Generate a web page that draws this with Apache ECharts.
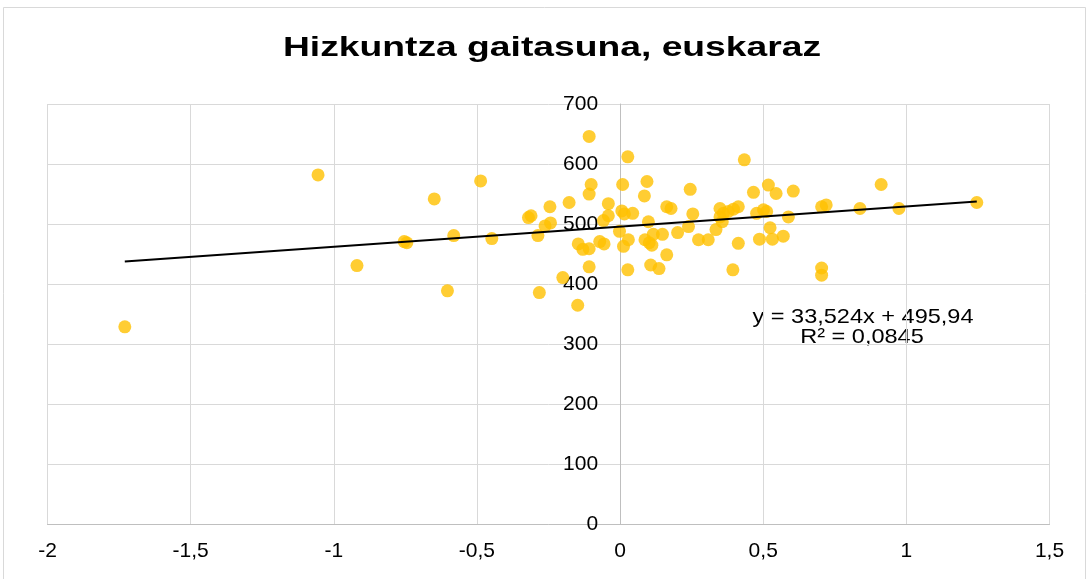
<!DOCTYPE html>
<html>
<head>
<meta charset="utf-8">
<script src="https://cdn.jsdelivr.net/npm/echarts@6/dist/echarts.min.js"></script>
<style>
html, body { margin: 0; padding: 0; background: #fff; }
#chart { width: 1089px; height: 579px; }
</style>
</head>
<body>
<div id="chart"></div>
<script>
// irakurritako puntuak (x, y)
const xValues = [
    -1.730, -1.055, -0.919, -0.754, -0.745, -0.649, -0.603, -0.581, -0.487, -0.448,
    -0.320, -0.311, -0.287, -0.282, -0.262, -0.243, -0.245, -0.200, -0.178, -0.148,
    -0.146, -0.130, -0.108, -0.108, -0.108, -0.101, -0.108, -0.071, -0.056, -0.041,
    -0.041, -0.058, 0.009, 0.027, 0.006, 0.015, 0.044, -0.002, 0.029, 0.012,
    0.027, 0.085, 0.094, 0.099, 0.087, 0.102, 0.111, 0.116, 0.148, 0.163,
    0.107, 0.136, 0.163, 0.178, 0.201, 0.239, 0.245, 0.254, 0.274, 0.308,
    0.335, 0.349, 0.361, 0.349, 0.357, 0.378, 0.396, 0.413, 0.413, 0.394,
    0.434, 0.466, 0.477, 0.501, 0.512, 0.487, 0.518, 0.524, 0.532, 0.545,
    0.570, 0.588, 0.605, 0.704, 0.720, 0.704, 0.704, 0.838, 0.912, 0.974,
    1.246
];
const yValues = [
    329, 582, 431, 471, 469, 542, 389, 481, 572, 476,
    511, 514, 481, 386, 497, 502, 529, 411, 536, 365,
    467, 458, 459, 429, 646, 566, 550, 471, 467, 534,
    514, 506, 566, 612, 522, 517, 518, 488, 474, 463,
    424, 547, 571, 504, 474, 469, 465, 483, 483, 449,
    432, 426, 529, 526, 486, 496, 558, 517, 474, 474,
    491, 526, 518, 512, 504, 521, 525, 529, 468, 424,
    607, 553, 518, 524, 521, 475, 565, 494, 475, 551,
    480, 512, 555, 529, 532, 427, 415, 526, 566, 526,
    536
];
// Excel-eko joera-lerroa
const slope = 33.524;
const intercept = 495.94;
const equationText = 'y = 33,524x + 495,94';
const r2Text = 'R² = 0,0845';
const titleText = 'Hizkuntza gaitasuna, euskaraz';

const points = xValues.map((x, i) => [x, yValues[i]]);
const xMin = Math.min(...xValues);
const xMax = Math.max(...xValues);
const trend = [[xMin, slope * xMin + intercept], [xMax, slope * xMax + intercept]];

const font = "'Liberation Sans', Arial, sans-serif";
const comma = v => String(v).replace('.', ',');

const gridLeft = 47.5;
const gridRight = 39.5;
const plotWidth = 1089 - gridLeft - gridRight;
const xAxisMin = -2;
const xAxisMax = 1.5;
// y ardatza x = 0 puntuan
const yAxisShift = plotWidth * (0 - xAxisMin) / (xAxisMax - xAxisMin);

const chart = echarts.init(document.getElementById('chart'));
const option = {
    animation: false,
    backgroundColor: '#fff',
    grid: {
        left: gridLeft,
        right: gridRight,
        top: 104,
        bottom: 54.5,
        outerBoundsMode: 'none',
        containLabel: false
    },
    xAxis: {
        type: 'value',
        min: xAxisMin,
        max: xAxisMax,
        interval: 0.5,
        axisLine: { show: true, onZero: false, lineStyle: { color: '#bfbfbf', width: 1 } },
        axisTick: { show: false },
        axisLabel: {
            color: '#000',
            fontSize: 21,
            fontFamily: font,
            margin: 16,
            formatter: comma
        },
        splitLine: { show: true, lineStyle: { color: '#d9d9d9', width: 1 } }
    },
    yAxis: {
        type: 'value',
        min: 0,
        max: 700,
        interval: 100,
        position: 'left',
        offset: -yAxisShift,
        axisLine: { show: true, onZero: false, lineStyle: { color: '#bfbfbf', width: 1 } },
        axisTick: { show: false },
        axisLabel: {
            color: '#000',
            fontSize: 21,
            fontFamily: font,
            margin: 22
        },
        splitLine: { show: true, lineStyle: { color: '#d9d9d9', width: 1 } }
    },
    series: [
        {
            type: 'scatter',
            data: points,
            symbol: 'circle',
            symbolSize: 13,
            itemStyle: { color: '#ffc000' },
            z: 2
        },
        {
            type: 'line',
            data: trend,
            symbol: 'none',
            lineStyle: { color: '#000', width: 2 },
            z: 3
        }
    ],
    graphic: [
        {
            type: 'rect',
            shape: { x: 3.5, y: 7.5, width: 1082, height: 600 },
            style: { fill: 'none', stroke: '#d9d9d9', lineWidth: 1 },
            silent: true
        },
        {
            type: 'text',
            x: 552,
            y: 48,
            scaleX: 1.33,
            style: {
                text: titleText,
                font: 'bold 28px ' + font,
                fill: '#000',
                textAlign: 'center',
                textVerticalAlign: 'middle'
            }
        },
        {
            type: 'text',
            x: 863,
            y: 317,
            scaleX: 1.12,
            style: {
                text: equationText,
                font: '21px ' + font,
                fill: '#000',
                textAlign: 'center',
                textVerticalAlign: 'middle'
            }
        },
        {
            type: 'text',
            x: 862,
            y: 337,
            scaleX: 1.12,
            style: {
                text: r2Text,
                font: '21px ' + font,
                fill: '#000',
                textAlign: 'center',
                textVerticalAlign: 'middle'
            }
        }
    ]
};
chart.setOption(option);
</script>
</body>
</html>
